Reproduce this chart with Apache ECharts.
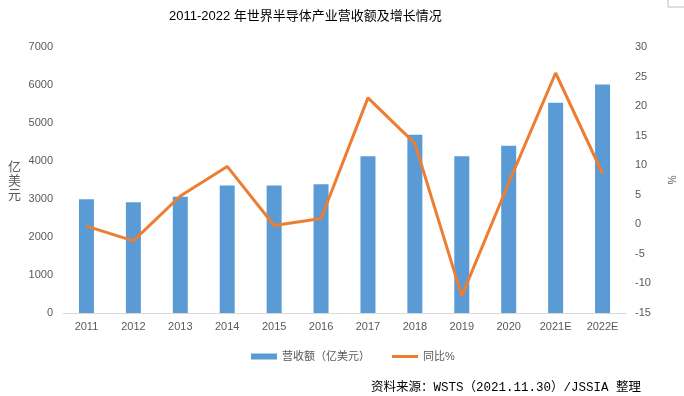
<!DOCTYPE html>
<html>
<head>
<meta charset="utf-8">
<script src="https://cdn.jsdelivr.net/npm/echarts@6/dist/echarts.min.js"></script>
<style>html,body{margin:0;padding:0;background:#fff}#c{width:684px;height:396px}</style>
</head>
<body>
<div id="c"></div>
<script>
const categories = ['2011','2012','2013','2014','2015','2016','2017','2018','2019','2020','2021E','2022E'];
const revenue = [2995, 2916, 3056, 3358, 3352, 3389, 4122, 4688, 4123, 4404, 5530, 6015];
const growth = [-0.3, -2.8, 4.8, 9.8, -0.2, 1.0, 21.4, 13.7, -12.1, 7.0, 25.6, 8.6];
const leftTicks = {min: 0, max: 7000, interval: 1000};
const rightTicks = {min: -15, max: 30, interval: 5};

const chart = echarts.init(document.getElementById('c'));
const txt = '#595959';
const ff = 'Liberation Sans, Noto Sans CJK SC, sans-serif';
chart.setOption({
  animation: false,
  title: {
    text: '2011-2022 年世界半导体产业营收额及增长情况',
    left: 164, top: 5,
    textStyle: {fontSize: 13, fontWeight: 'normal', color: '#000', fontFamily: 'Liberation Sans, Noto Sans CJK SC'}
  },
  grid: {left: 63, right: 54, top: 47, bottom: 83, containLabel: false},
  legend: {
    left: 246, top: 346,
    itemWidth: 26, itemHeight: 6, itemGap: 22,
    textStyle: {fontSize: 11, color: txt, fontFamily: ff},
    data: [
      {name: '营收额（亿美元）', icon: 'rect'},
      {name: '同比%', icon: 'path://M0,0 L26,0 L26,3 L0,3 Z', itemStyle: {color: '#ED7D31'}}
    ]
  },
  xAxis: {
    type: 'category', data: categories,
    axisLine: {lineStyle: {color: '#D9D9D9', width: 1}},
    axisTick: {show: false},
    axisLabel: {color: txt, fontSize: 11, margin: 8, fontFamily: ff}
  },
  yAxis: [{
    type: 'value', min: leftTicks.min, max: leftTicks.max, interval: leftTicks.interval,
    name: '亿\n美\n元', nameLocation: 'middle', nameRotate: 0, nameGap: 42,
    nameTextStyle: {color: txt, fontSize: 13, lineHeight: 14, fontFamily: 'Noto Sans CJK SC'},
    splitLine: {show: false}, axisLine: {show: false}, axisTick: {show: false},
    axisLabel: {color: txt, fontSize: 11, margin: 10, fontFamily: ff, formatter: v => String(v)}
  }, {
    type: 'value', min: rightTicks.min, max: rightTicks.max, interval: rightTicks.interval,
    name: '%', nameLocation: 'middle', nameRotate: -90, nameGap: 40,
    nameTextStyle: {color: txt, fontSize: 10, fontFamily: ff},
    splitLine: {show: false}, axisLine: {show: false}, axisTick: {show: false},
    axisLabel: {color: txt, fontSize: 11, margin: 9, fontFamily: ff, formatter: v => String(v)}
  }],
  series: [{
    name: '营收额（亿美元）', type: 'bar', data: revenue, barWidth: 15,
    itemStyle: {color: '#5B9BD5'}
  }, {
    name: '同比%', type: 'line', yAxisIndex: 1, data: growth,
    symbol: 'none', lineStyle: {color: '#ED7D31', width: 3}, itemStyle: {color: '#ED7D31'}
  }],
  graphic: [{
    type: 'text', left: 371, top: 381,
    style: {text: '资料来源：WSTS（2021.11.30）/JSSIA 整理', fill: '#000', fontSize: 12.5, fontFamily: 'Liberation Mono, Noto Sans CJK SC'}
  }, {
    type: 'polyline', shape: {points: [[668, 0], [668, 7], [684, 7]]},
    style: {stroke: '#BFBFBF', fill: null, lineWidth: 1}
  }]
});
</script>
</body>
</html>
